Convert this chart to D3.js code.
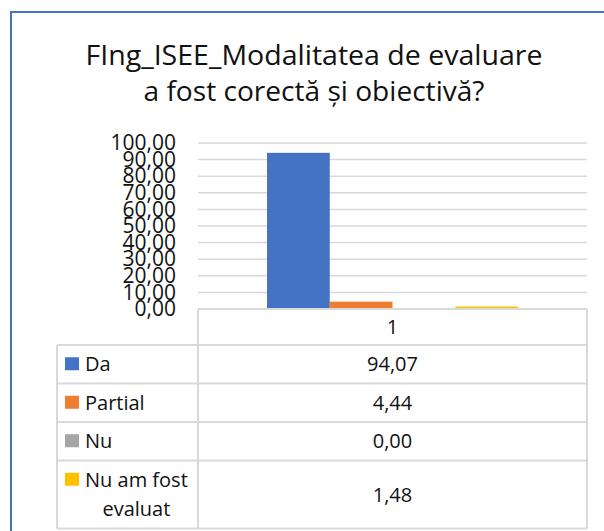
<!doctype html>
<html>
<head>
<meta charset="utf-8">
<title>FIng_ISEE chart</title>
<script src="https://cdnjs.cloudflare.com/ajax/libs/d3/7.8.5/d3.min.js"></script>
<style>
  body { margin: 0; background: #fff; }
  svg { display: block; font-family: "Open Sans", sans-serif; }
</style>
</head>
<body>
<svg width="604" height="531"></svg>
<script>
// data
var titleLines = ["FIng_ISEE_Modalitatea de evaluare", "a fost corectă și obiectivă?"];
var categories = ["1"];
var series = ["Da", "Partial", "Nu", "Nu am fost evaluat"];
var values = [94.07, 4.44, 0.00, 1.48];
var colors = ["#4472C4", "#ED7D31", "#A5A5A5", "#FFC000"];
var yTicks = [0, 10, 20, 30, 40, 50, 60, 70, 80, 90, 100];

var ro = d3.formatLocale({decimal: ",", thousands: ".", grouping: [3], currency: ["", ""]});
var fmt = ro.format(".2f");

var svg = d3.select("svg");

// outer frame (clipped on right/bottom like the screenshot)
svg.append("rect")
    .attr("x", 11).attr("y", 12)
    .attr("width", 700).attr("height", 700)
    .attr("fill", "#fff")
    .attr("stroke", "#4472C4")
    .attr("stroke-width", 2);

// title
var titleW = [457, 341];
svg.selectAll(".title")
    .data(titleLines)
    .enter().append("text")
    .attr("class", "title")
    .attr("x", 314)
    .attr("y", (d, i) => 65 + i * 36)
    .attr("text-anchor", "middle")
    .attr("font-size", 28)
    .attr("fill", "#111")
    .attr("textLength", (d, i) => titleW[i])
    .attr("lengthAdjust", "spacingAndGlyphs")
    .text(d => d);

// plot area
var plotL = 198, plotR = 587, plotT = 143, plotB = 309;

var y = d3.scaleLinear().domain([0, 100]).range([plotB, plotT]);
var x0 = d3.scaleBand().domain(categories).range([plotL, plotR]).paddingInner(0).paddingOuter(0.275);
var x1 = d3.scaleBand().domain(series).range([0, x0.bandwidth()]);

// gridlines
svg.append("g")
    .selectAll("line")
    .data(yTicks.slice(1))
    .enter().append("line")
    .attr("x1", plotL).attr("x2", plotR)
    .attr("y1", d => y(d)).attr("y2", d => y(d))
    .attr("stroke", "#d9d9d9")
    .attr("stroke-width", 1.5);

// y axis labels
var yAxis = d3.axisLeft(y).tickValues(yTicks).tickSize(0).tickPadding(22).tickFormat(fmt);
var yg = svg.append("g")
    .attr("transform", "translate(" + plotL + ",0)")
    .call(yAxis);
yg.select(".domain").remove();
yg.selectAll("text")
    .attr("font-family", "Open Sans")
    .attr("font-size", 21)
    .attr("fill", "#111");

// bars
svg.append("g")
    .selectAll("rect")
    .data(series.map((s, i) => ({s: s, v: values[i], c: colors[i], cat: categories[0]})))
    .enter().append("rect")
    .attr("x", d => x0(d.cat) + x1(d.s))
    .attr("y", d => y(d.v))
    .attr("width", x1.bandwidth())
    .attr("height", d => y(0) - y(d.v))
    .attr("fill", d => d.c);

// data table
var tableLeft = 57, headH = 36, rowH = 38.5, lineH = 29.5;
var grid = "#d9d9d9";
var tg = svg.append("g");

// header row with category
tg.append("text")
    .attr("x", x0(categories[0]) + x0.bandwidth() / 2)
    .attr("y", plotB + headH / 2)
    .attr("dy", "0.35em")
    .attr("text-anchor", "middle")
    .attr("font-size", 20)
    .attr("fill", "#111")
    .text(categories[0]);

// wrap legend labels
var maxW = 110;
var probe = svg.append("text").attr("font-size", 20);
function wrap(label) {
    var words = label.split(" "), lines = [], cur = "";
    words.forEach(w => {
        var t = cur ? cur + " " + w : w;
        probe.text(t);
        if (cur && probe.node().getComputedTextLength() > maxW) { lines.push(cur); cur = w; }
        else cur = t;
    });
    lines.push(cur);
    return lines;
}

var rowY = plotB + headH;
var rows = series.map((s, i) => {
    var lines = wrap(s);
    var h = rowH + (lines.length - 1) * lineH;
    var r = {s: s, v: values[i], c: colors[i], lines: lines, y: rowY, h: h};
    rowY += h;
    return r;
});
probe.remove();
var tableBottom = rowY;

// lines
var hl = [[plotL, plotR, plotB]].concat(rows.map(r => [tableLeft, plotR, r.y])).concat([[tableLeft, plotR, tableBottom]]);
tg.selectAll(".hl").data(hl).enter().append("line")
    .attr("x1", d => d[0]).attr("x2", d => d[1])
    .attr("y1", d => d[2]).attr("y2", d => d[2])
    .attr("stroke", grid).attr("stroke-width", 2);
var vl = [[tableLeft, plotB + headH], [plotL, plotB], [plotR, plotB]];
tg.selectAll(".vl").data(vl).enter().append("line")
    .attr("x1", d => d[0]).attr("x2", d => d[0])
    .attr("y1", d => d[1]).attr("y2", tableBottom)
    .attr("stroke", grid).attr("stroke-width", 2);

rows.forEach(r => {
    var firstY = r.y + rowH / 2;
    tg.append("rect")
        .attr("x", 65).attr("y", firstY - 7)
        .attr("width", 14).attr("height", 13)
        .attr("fill", r.c);
    var t0 = tg.append("text")
        .attr("x", 85).attr("y", firstY).attr("dy", "0.35em")
        .attr("font-size", 20).attr("fill", "#111")
        .text(r.lines[0]);
    var w0 = t0.node().getComputedTextLength();
    r.lines.slice(1).forEach((ln, j) => {
        tg.append("text")
            .attr("x", 85 + w0 / 2).attr("y", firstY + (j + 1) * lineH).attr("dy", "0.35em")
            .attr("text-anchor", "middle")
            .attr("font-size", 20).attr("fill", "#111")
            .text(ln);
    });
    tg.append("text")
        .attr("x", x0(categories[0]) + x0.bandwidth() / 2)
        .attr("y", r.y + r.h / 2).attr("dy", "0.35em")
        .attr("text-anchor", "middle")
        .attr("font-size", 20).attr("fill", "#111")
        .text(fmt(r.v));
});
</script>
</body>
</html>
